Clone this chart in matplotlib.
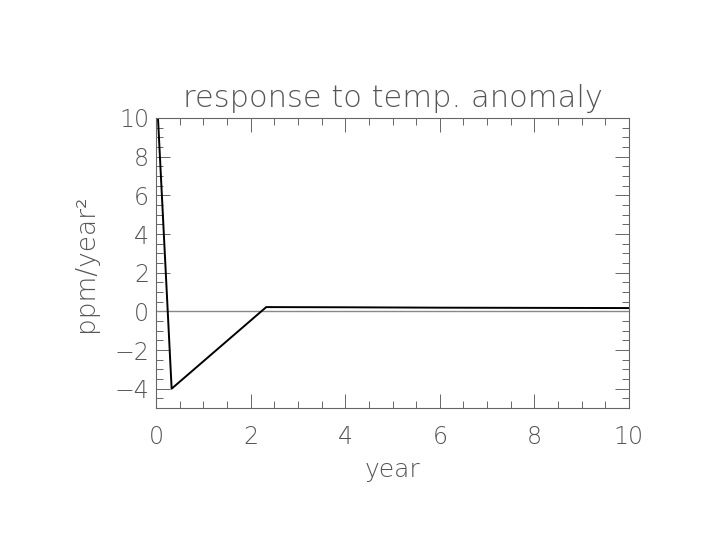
import matplotlib
matplotlib.use("Agg")
import matplotlib.pyplot as plt
from matplotlib.ticker import MultipleLocator

year = [0.0, 0.33, 2.33, 4.0, 6.0, 8.0, 10.0]
response = [12.0, -4.0, 0.22, 0.21, 0.19, 0.18, 0.17]
zero_x = [0.0, 10.0]
zero_y = [0.0, 0.0]
xticks = [0, 2, 4, 6, 8, 10]
yticks = [-4, -2, 0, 2, 4, 6, 8, 10]

plt.rcParams['font.family'] = ['DejaVu Sans']
tc = '#555555'
fw = 'light'

fig = plt.figure(figsize=(7.2, 5.4), dpi=100)
ax = fig.add_axes([0.2167, 0.2444, 0.6569, 0.5371])
ax.plot(zero_x, zero_y, color='#888888', lw=1.0)
ax.plot(year, response, color='black', lw=1.4)
ax.set_xlim(0, 10)
ax.set_ylim(-5, 10)
ax.set_xticks(xticks)
ax.set_yticks(yticks)
ax.set_yticklabels([str(v).replace('-', '\u2212') for v in yticks])
ax.xaxis.set_minor_locator(MultipleLocator(0.5))
ax.yaxis.set_minor_locator(MultipleLocator(0.5))
ax.tick_params(which='both', direction='in', top=True, right=True, colors='#666666',
               labelcolor=tc, labelsize=17, width=0.7)
ax.tick_params(which='major', length=10)
ax.tick_params(axis='x', which='major', pad=12)
ax.tick_params(axis='y', which='major', pad=5)
ax.tick_params(which='minor', length=5)
for s in ax.spines.values():
    s.set_color('#666666')
    s.set_linewidth(0.8)
for lab in ax.get_xticklabels() + ax.get_yticklabels():
    lab.set_fontweight(fw)
ax.set_xlabel('year', fontsize=18, color=tc, fontweight=fw, labelpad=7)
ax.set_ylabel('ppm/year\u00b2', fontsize=19, color=tc, fontweight=fw, labelpad=12)
ax.set_title('response to temp. anomaly', fontsize=22, color=tc, fontweight=fw, pad=8)
fig.savefig('out.png', dpi=100)
